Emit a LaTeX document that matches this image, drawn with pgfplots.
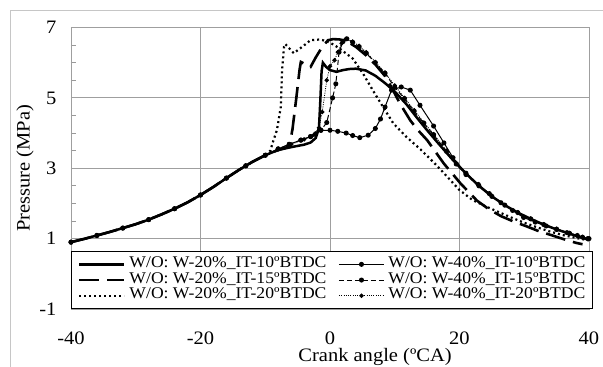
\documentclass[border=0pt]{standalone}
\usepackage{fontspec}
\setmainfont{Liberation Serif}[FakeStretch=1.08]
\usepackage{pgfplots}
\pgfplotsset{compat=1.18}
\begin{document}
\begin{tikzpicture}[font=\fontsize{19bp}{22bp}\selectfont]
\path[use as bounding box] (-71bp,-58bp) rectangle (532bp,309bp);
\draw[gray!45, line width=0.8bp] (-61bp,-60bp) -- (-61bp,299bp) -- (540bp,299bp);
\begin{axis}[
 scale only axis, width=518bp, height=281.5bp,
 xmin=-40, xmax=40, ymin=-1, ymax=7,
 xtick={-40,-20,0,20,40}, xticklabels={-40,-20,0,20,40},
 ytick={-1,1,3,5,7}, yticklabels={-1,1,3,5,7},
 minor ytick={-0.5,0,0.5,1.5,2,2.5,3.5,4,4.5,5.5,6,6.5},
 major tick length=0pt, minor tick length=5bp, tick align=inside,
 ytick pos=left, xtick pos=bottom,
 tick style={gray!80, line width=0.8bp},
 grid=major, major grid style={gray!75, line width=0.9bp},
 axis line style={gray!75, line width=0.9bp},
 tick label style={font=\fontsize{19bp}{22bp}\selectfont},
 label style={font=\fontsize{19bp}{22bp}\selectfont},
 xticklabel style={yshift=-19bp},
 yticklabel style={xshift=-11bp},
 xlabel={Crank angle (ºCA)}, ylabel={Pressure (MPa)},
 xlabel style={at={(axis description cs:0.587,-0.1705)}, anchor=center},
 ylabel style={at={(axis description cs:-0.0888,0.5)}, anchor=center},
 clip=false,
 legend columns=2, legend cell align=left,
 legend image code/.code={\draw[mark repeat=2,mark phase=2,#1] plot coordinates {(0bp,0bp) (22.5bp,0bp) (45bp,0bp)};},
 legend style={at={(axis description cs:0,0)}, anchor=south west, draw=black, line width=0.8bp, fill=white,
   inner xsep=6.5bp, inner ysep=5bp, font=\fontsize{16.3bp}{16bp}\selectfont,
   nodes={inner sep=0pt, text height=11bp, text depth=4.7bp},
   /tikz/every odd column/.append style={column sep=4bp},
   /tikz/every even column/.append style={column sep=12bp}},
]
% S1: W-20% IT-10
\addplot[black, line width=2.5bp] coordinates {
(-40,0.9)(-38,0.99)(-36,1.09)(-34,1.19)(-32,1.3)(-30,1.41)(-28,1.54)(-26,1.69)(-24,1.85)(-22,2.03)(-20,2.24)(-18,2.47)(-16,2.72)(-14,2.96)(-12,3.18)(-10,3.37)
(-8,3.52)(-6,3.6)(-4,3.67)(-3,3.73)(-2.2,3.86)(-1.7,4.15)(-1.5,4.9)(-1.3,5.75)(-1.1,6.0)(-0.6,5.88)(0,5.79)(1,5.74)(2,5.79)(3,5.82)(4,5.83)(5.5,5.78)(7,5.63)(8.5,5.42)(10,5.18)(11.8,4.82)(13.5,4.42)(15,4.08)(17,3.65)(19,3.23)(21,2.85)(23,2.5)(25,2.2)(27,1.95)(29,1.74)(31,1.56)(33,1.4)(35,1.26)(37,1.14)(39,1.02)(40,0.97)};
\addlegendentry{W/O: W-20\%\_IT-10ºBTDC}
% S4: W-40% IT-10
\addplot[black, line width=1bp, mark=*, mark size=2bp, mark options={solid, fill=black}] coordinates {
(-40,0.9)(-36,1.09)(-32,1.3)(-28,1.54)(-24,1.85)(-20,2.24)(-16,2.72)(-13,3.07)(-10,3.37)
(-8,3.55)(-6.3,3.68)(-4.5,3.8)(-3,3.9)(-2.2,3.98)(-1.4,4.08)(0,4.08)(1.2,4.05)(2.5,4.0)(3.5,3.93)(4.6,3.87)(5.9,3.94)(7,4.13)(7.8,4.4)(8.5,4.74)(9.5,5.22)(11,5.31)(12.4,5.22)(13.9,4.79)(16,4.2)(17.6,3.72)(19,3.3)(21,2.86)(22.9,2.54)(24.6,2.28)(26.4,2.02)(28.2,1.8)(29.9,1.6)(31.7,1.47)(33.4,1.36)(35,1.26)(36.6,1.17)(38.2,1.09)(39.8,1.0)};
\addlegendentry{W/O: W-40\%\_IT-10ºBTDC}
% S2: W-20% IT-15
\addplot[black, line width=2.6bp, dash pattern=on 20bp off 8bp] coordinates {
(-40,0.9)(-38,0.99)(-36,1.09)(-34,1.19)(-32,1.3)(-30,1.41)(-28,1.54)(-26,1.69)(-24,1.85)(-22,2.03)(-20,2.24)(-18,2.47)(-16,2.72)(-14,2.96)(-12,3.18)(-10,3.37)
(-8,3.52)(-7,3.57)(-6.3,3.62)(-5.8,4.1)(-5.2,5.0)(-4.7,5.8)(-4.5,6.02)(-3.0,5.88)(-2.2,6.15)(-1.2,6.45)(-0.3,6.64)(0.5,6.67)(1.5,6.66)(2.5,6.62)(4,6.45)(5.5,6.22)(7,5.95)(8.5,5.62)(9.5,5.3)(10.8,4.84)(12.4,4.36)(13.5,4.1)(15,3.8)(17.6,3.13)(20.2,2.56)(22.7,2.08)(24.5,1.84)(26.4,1.64)(28.3,1.49)(30.2,1.36)(32,1.23)(34,1.11)(36,0.99)(38,0.88)(39,0.84)};
\addlegendentry{W/O: W-20\%\_IT-15ºBTDC}
% S5: W-40% IT-15
\addplot[black, line width=1bp, dash pattern=on 5bp off 3bp, mark=*, mark size=2bp, mark options={solid, fill=black}] coordinates {
(-40,0.9)(-36,1.09)(-32,1.3)(-28,1.54)(-24,1.85)(-20,2.24)(-16,2.72)(-13,3.07)(-10,3.37)
(-8,3.55)(-6.3,3.68)(-4.5,3.8)(-3,3.9)(-1.4,4.08)(-0.5,4.3)(0.4,5.0)(0.9,5.4)(1.4,6.3)(2.0,6.6)(2.6,6.68)(3.5,6.58)(4.5,6.45)(5.6,6.27)(7,6.0)(8.5,5.7)(10,5.3)(11.5,4.98)(13,4.62)(14.5,4.28)(16,3.95)(18,3.48)(19.5,3.12)(21,2.82)(23,2.5)(25,2.2)(27,1.95)(29,1.74)(31,1.56)(33,1.4)(35,1.27)(37,1.15)(39,1.04)(40,1.0)};
\addlegendentry{W/O: W-40\%\_IT-15ºBTDC}
% S3: W-20% IT-20
\addplot[black, line width=2.2bp, dash pattern=on 2bp off 3bp] coordinates {
(-40,0.9)(-38,0.99)(-36,1.09)(-34,1.19)(-32,1.3)(-30,1.41)(-28,1.54)(-26,1.69)(-24,1.85)(-22,2.03)(-20,2.24)(-18,2.47)(-16,2.72)(-14,2.96)(-12,3.18)(-10,3.37)
(-9.2,3.5)(-8.9,3.7)(-8.2,4.08)(-7.6,4.74)(-7.4,5.79)(-7.1,6.45)(-6.9,6.53)(-5.6,6.27)(-4.3,6.45)(-3,6.64)(-1.5,6.66)(-0.4,6.6)(0.5,6.52)(1.5,6.4)(3.5,6.12)(5.1,5.69)(6.6,5.22)(8.2,4.74)(9.8,4.27)(11.8,3.89)(13.9,3.55)(16,3.17)(18,2.78)(20,2.38)(22,2.1)(24,1.92)(26,1.76)(28,1.6)(30,1.45)(32,1.32)(34,1.2)(36,1.1)(38,1.02)(40,0.95)};
\addlegendentry{W/O: W-20\%\_IT-20ºBTDC}
% S6: W-40% IT-20
\addplot[black, line width=0.8bp, dash pattern=on 1bp off 1.3bp, mark=*, mark size=1.8bp, mark options={solid, fill=black}] coordinates {
(-40,0.9)(-36,1.09)(-32,1.3)(-28,1.54)(-24,1.85)(-20,2.24)(-16,2.72)(-13,3.07)(-10,3.37)
(-8,3.55)(-6,3.68)(-4,3.82)(-2.5,3.95)(-1.7,4.15)(-1.2,4.6)(-0.5,5.5)(0,5.9)(0.7,6.07)(1.2,6.3)(1.8,6.55)(2.4,6.67)(3.5,6.6)(4.5,6.48)(5.6,6.3)(7,6.02)(8.5,5.72)(10,5.35)(11.5,5.0)(13,4.65)(14.5,4.3)(16,3.97)(18,3.5)(19.5,3.15)(21,2.85)(23,2.52)(25,2.22)(27,1.96)(29,1.75)(31,1.57)(33,1.41)(35,1.28)(37,1.16)(39,1.05)(40,1.0)};
\addlegendentry{W/O: W-40\%\_IT-20ºBTDC}
\end{axis}
\end{tikzpicture}
\end{document}
